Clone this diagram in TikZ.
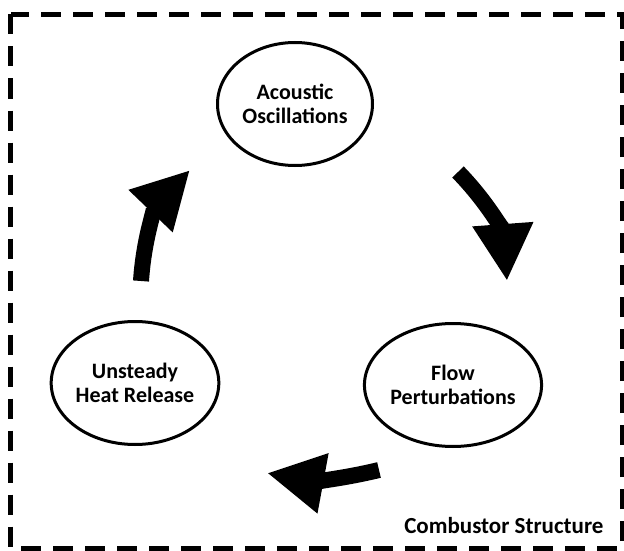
\documentclass[tikz,border=0pt]{standalone}
\usepackage{fontspec}
\setmainfont{Carlito}
\usetikzlibrary{positioning, arrows.meta, shapes.geometric}

\begin{document}
\begin{tikzpicture}[
    x=1pt, y=-1pt,
    >=Stealth,
    phase/.style={ellipse, draw, line width=3pt, inner sep=0pt, minimum width=155pt, minimum height=123pt, align=center, font=\fontsize{22}{24}\selectfont\bfseries},
    loop/.style={line width=16pt, -{Triangle[length=57pt, width=57pt]}},
    frame/.style={line width=5pt, dash pattern=on 20pt off 12pt},
]
\useasboundingbox (0,0) rectangle (624,551);

\draw[frame] (10.5,14.5) rectangle (622,548);

\node[phase] (acoustic) at (295,104) {Acoustic\\Oscillations};
\node[phase] (flow) at (453,385) {Flow\\Perturbations};
\node[phase] (heat) at (135,383) {Unsteady\\Heat Release};

\node[anchor=base east, font=\fontsize{23}{25}\selectfont\bfseries] (combustor) at (607,533) {Combustor Structure};

% feedback loop
\coordinate (acoustic-out) at (458,172);
\coordinate (flow-in) at (507,281);
\coordinate (flow-out) at (379,470);
\coordinate (heat-in) at (267,473);
\coordinate (heat-out) at (141,281);
\coordinate (acoustic-in) at (190,170);

\draw[loop] (acoustic-out) to[bend left=20] (flow-in);
\draw[loop] (flow-out) to[bend left=12] (heat-in);
\draw[loop] (heat-out) to[bend left=20] (acoustic-in);
\end{tikzpicture}
\end{document}
